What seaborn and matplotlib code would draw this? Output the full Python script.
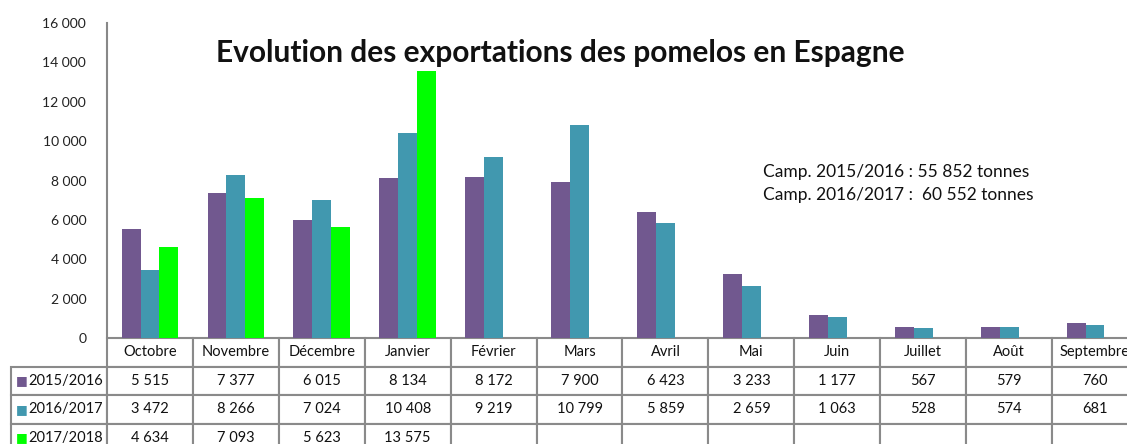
import numpy as np
import pandas as pd
import matplotlib
matplotlib.use("Agg")
import matplotlib.pyplot as plt
import seaborn as sns

months = ["Octobre", "Novembre", "Décembre", "Janvier", "Février", "Mars",
          "Avril", "Mai", "Juin", "Juillet", "Août", "Septembre"]
seasons = ["2015/2016", "2016/2017", "2017/2018"]
v_2015_2016 = [5515, 7377, 6015, 8134, 8172, 7900, 6423, 3233, 1177, 567, 579, 760]
v_2016_2017 = [3472, 8266, 7024, 10408, 9219, 10799, 5859, 2659, 1063, 528, 574, 681]
v_2017_2018 = [4634, 7093, 5623, 13575, None, None, None, None, None, None, None, None]
colors = ["#71588F", "#4198AF", "#00FF00"]
title = "Evolution des exportations des pomelos en Espagne"
note_lines = ["Camp. 2015/2016 : 55 852 tonnes", "Camp. 2016/2017 :  60 552 tonnes"]
yticks = [0, 2000, 4000, 6000, 8000, 10000, 12000, 14000, 16000]

series = [v_2015_2016, v_2016_2017, v_2017_2018]
rows = []
for s, vals in zip(seasons, series):
    for m, v in zip(months, vals):
        rows.append({"Mois": m, "Campagne": s, "Tonnes": np.nan if v is None else v})
df = pd.DataFrame(rows)

sns.set_theme(style="white")
plt.rcParams["font.family"] = ["Lato", "DejaVu Sans"]

W, H = 1127, 444
fig = plt.figure(figsize=(W / 100, H / 100), dpi=100)
ax_l, ax_r, ax_t, ax_b = 107, 1138, 23, 338
ax = fig.add_axes([ax_l / W, 1 - ax_b / H, (ax_r - ax_l) / W, (ax_b - ax_t) / H])

sns.barplot(data=df, x="Mois", y="Tonnes", hue="Campagne", order=months,
            hue_order=seasons, palette=colors, width=0.66, linewidth=0,
            saturation=1, legend=False, ax=ax)

ax.set_xlim(-0.5, len(months) - 0.5)
ax.set_ylim(0, 16000)
ax.set_yticks(yticks)
ax.set_yticklabels([f"{t:,}".replace(",", " ") for t in yticks], fontsize=10, color="#222222")
ax.tick_params(axis="y", length=0, pad=15)
ax.set_xticks([])
ax.set_xlabel("")
ax.set_ylabel("")
for sp in ["top", "right", "bottom"]:
    ax.spines[sp].set_visible(False)
ax.spines["left"].set_color("#888888")
ax.spines["left"].set_linewidth(1.5)


def fmt(v):
    return "" if v is None else f"{v:,}".replace(",", " ")


cell_text = [[""] + [fmt(v) for v in vals] for vals in series]
col_labels = [""] + months
ax_w = ax_r - ax_l
ax_h = ax_b - ax_t
lab_w = 96
tbl_h = 114
tbl = ax.table(cellText=cell_text, colLabels=col_labels, cellLoc="center",
               colWidths=[lab_w / ax_w] + [1 / 12] * 12,
               bbox=[-lab_w / ax_w, -tbl_h / ax_h, (lab_w + ax_w) / ax_w, tbl_h / ax_h])
tbl.auto_set_font_size(False)
for (r, c), cell in tbl.get_celld().items():
    cell.set_edgecolor("#8a8a8a")
    cell.set_linewidth(1.5)
    cell.get_text().set_fontsize(10.5)
    cell.get_text().set_color("#111111")
    if r == 0 and c == 0:
        cell.set_visible(False)

# row labels with legend keys
fig.canvas.draw()
for i, (s, col) in enumerate(zip(seasons, colors)):
    cell = tbl[(i + 1, 0)]
    cell.get_text().set_text("")
    bb = cell.get_window_extent(fig.canvas.get_renderer())
    inv = ax.transAxes.inverted()
    (x0, y0), (x1, y1) = inv.transform([(bb.x0, bb.y0), (bb.x1, bb.y1)])
    yc = (y0 + y1) / 2
    ax.text(x0 + 5 / ax_w, yc, "■", color=col, fontsize=9, va="center", ha="left",
            transform=ax.transAxes, family=["DejaVu Sans"], clip_on=False)
    ax.text(x0 + 17 / ax_w, yc, s, color="#111111", fontsize=10.5, va="center", ha="left",
            transform=ax.transAxes, clip_on=False)

fig.text(560 / W, 1 - 53 / H, title, ha="center", va="center", fontsize=21.5,
         fontweight="bold", color="#111111")
fig.text(763 / W, 1 - 172 / H, note_lines[0], ha="left", va="center", fontsize=12.5, color="#111111")
fig.text(763 / W, 1 - 195 / H, note_lines[1], ha="left", va="center", fontsize=12.5, color="#111111")

fig.savefig("out.png", dpi=100)
